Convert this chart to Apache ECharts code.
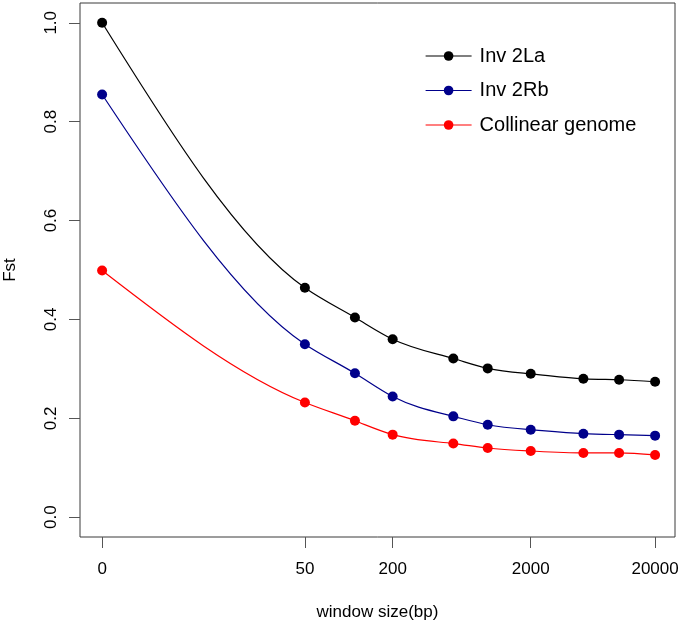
<!DOCTYPE html>
<html><head><meta charset="utf-8">
<script src="https://cdn.jsdelivr.net/npm/echarts@6/dist/echarts.min.js"></script>
<style>html,body{margin:0;padding:0;background:#fff}#chart{width:680px;height:621px}</style>
</head><body><div id="chart"></div>
<script>
// x positions along the (non-linear) window-size axis, in axis units (0 = "0", 100 = "20000")
const xPositions = [0, 36.67, 45.72, 52.54, 63.51, 69.73, 77.51, 87.03, 93.49, 100];
const inv2La = [1.0, 0.464, 0.404, 0.360, 0.321, 0.301, 0.290, 0.280, 0.278, 0.274];
const inv2Rb = [0.855, 0.350, 0.291, 0.244, 0.204, 0.187, 0.177, 0.169, 0.167, 0.165];
const collinear = [0.499, 0.232, 0.195, 0.167, 0.149, 0.140, 0.134, 0.130, 0.130, 0.126];
const xTickPositions = [0, 36.67, 52.54, 77.51, 100];
const xTickLabels = ['0', '50', '200', '2000', '20000'];
const yTickValues = [0, 0.2, 0.4, 0.6, 0.8, 1.0];
const seriesNames = ['Inv 2La', 'Inv 2Rb', 'Collinear genome'];
const seriesColors = ['#000000', '#00008B', '#FF0000'];
const seriesValues = [inv2La, inv2Rb, collinear];

const FONT = '"Liberation Sans", Arial, Helvetica, sans-serif';
const LINE_W = 1.2;
const chart = echarts.init(document.getElementById('chart'), null, {renderer: 'canvas'});

// Slopes of a natural cubic spline through the points (used only to shape the drawn curve)
function splineSlopes(xs, ys) {
  const n = xs.length, h = [], d = [];
  for (let i = 0; i < n - 1; i++) { h[i] = xs[i + 1] - xs[i]; d[i] = (ys[i + 1] - ys[i]) / h[i]; }
  const M = new Array(n).fill(0);
  if (n > 2) {
    const a = [], b = [], c = [], r = [];
    for (let i = 1; i < n - 1; i++) {
      a[i] = h[i - 1]; b[i] = 2 * (h[i - 1] + h[i]); c[i] = h[i]; r[i] = 6 * (d[i] - d[i - 1]);
    }
    for (let i = 2; i < n - 1; i++) {
      const w = a[i] / b[i - 1];
      b[i] -= w * c[i - 1]; r[i] -= w * r[i - 1];
    }
    M[n - 2] = r[n - 2] / b[n - 2];
    for (let i = n - 3; i >= 1; i--) M[i] = (r[i] - c[i] * M[i + 1]) / b[i];
  }
  const m = [];
  for (let i = 0; i < n - 1; i++) m[i] = d[i] - h[i] * (2 * M[i] + M[i + 1]) / 6;
  m[n - 1] = d[n - 2] + h[n - 2] * (M[n - 2] + 2 * M[n - 1]) / 6;
  return m;
}

const curveSeries = seriesNames.map((name, i) => ({
  name: name + ' (curve)',
  type: 'custom',
  coordinateSystem: 'cartesian2d',
  silent: true,
  z: 1,
  data: [[xPositions[0], seriesValues[i][0]]],
  renderItem: function (params, api) {
    const ys = seriesValues[i];
    const m = splineSlopes(xPositions, ys);
    const children = [];
    for (let k = 0; k < xPositions.length - 1; k++) {
      const h = xPositions[k + 1] - xPositions[k];
      const p0 = api.coord([xPositions[k], ys[k]]);
      const p1 = api.coord([xPositions[k + 1], ys[k + 1]]);
      const c0 = api.coord([xPositions[k] + h / 3, ys[k] + m[k] * h / 3]);
      const c1 = api.coord([xPositions[k + 1] - h / 3, ys[k + 1] - m[k + 1] * h / 3]);
      children.push({
        type: 'bezierCurve',
        shape: {x1: p0[0], y1: p0[1], x2: p1[0], y2: p1[1], cpx1: c0[0], cpy1: c0[1], cpx2: c1[0], cpy2: c1[1]},
        style: {stroke: seriesColors[i], lineWidth: LINE_W, fill: null}
      });
    }
    return {type: 'group', children: children};
  }
}));

const pointSeries = seriesNames.map((name, i) => ({
  name: name,
  type: 'line',
  symbol: 'circle',
  symbolSize: 10,
  showSymbol: true,
  z: 3,
  color: seriesColors[i],
  itemStyle: {color: seriesColors[i]},
  lineStyle: {color: seriesColors[i], width: 0, opacity: 0},
  emphasis: {disabled: true},
  data: xPositions.map((x, j) => [x, seriesValues[i][j]])
}));

chart.setOption({
  backgroundColor: '#ffffff',
  animation: false,
  textStyle: {fontFamily: FONT},
  grid: {left: 80, right: 5, top: 3, bottom: 84, containLabel: false, outerBoundsMode: 'none',
         show: true, borderColor: '#3a3a3a', borderWidth: 1, backgroundColor: 'transparent'},
  legend: {
    data: seriesNames.map((n, i) => ({
      name: n,
      lineStyle: {color: seriesColors[i], width: LINE_W, opacity: 1}
    })),
    orient: 'vertical',
    left: 420,
    top: 41,
    itemWidth: 46,
    itemHeight: 12,
    itemGap: 14.5,
    textStyle: {fontSize: 20, color: '#000', fontFamily: FONT, padding: [0, 0, 0, 3]}
  },
  xAxis: {
    type: 'value',
    min: -4,
    max: 103.6,
    name: 'window size(bp)',
    nameLocation: 'middle',
    nameGap: 67,
    nameTextStyle: {fontSize: 17, color: '#000', fontFamily: FONT},
    axisLine: {show: false, onZero: false},
    splitLine: {show: false},
    axisTick: {show: true, inside: false, length: 11, customValues: xTickPositions, lineStyle: {color: '#555', width: 1}},
    axisLabel: {
      customValues: xTickPositions,
      margin: 24,
      fontSize: 17,
      color: '#000',
      fontFamily: FONT,
      formatter: function (v) {
        for (let k = 0; k < xTickPositions.length; k++) {
          if (Math.abs(xTickPositions[k] - v) < 1e-6) return xTickLabels[k];
        }
        return '';
      }
    }
  },
  yAxis: {
    type: 'value',
    min: -0.04,
    max: 1.04,
    name: 'Fst',
    nameLocation: 'middle',
    nameRotate: 90,
    nameGap: 61,
    nameTextStyle: {fontSize: 17, color: '#000', fontFamily: FONT},
    axisLine: {show: false, onZero: false},
    splitLine: {show: false},
    axisTick: {show: true, inside: false, length: 11, customValues: yTickValues, lineStyle: {color: '#555', width: 1}},
    axisLabel: {
      customValues: yTickValues,
      rotate: 90,
      margin: 20,
      fontSize: 17,
      color: '#000',
      fontFamily: FONT,
      formatter: function (v) { return v.toFixed(1); }
    }
  },
  series: curveSeries.concat(pointSeries)
});
</script>
</body></html>
